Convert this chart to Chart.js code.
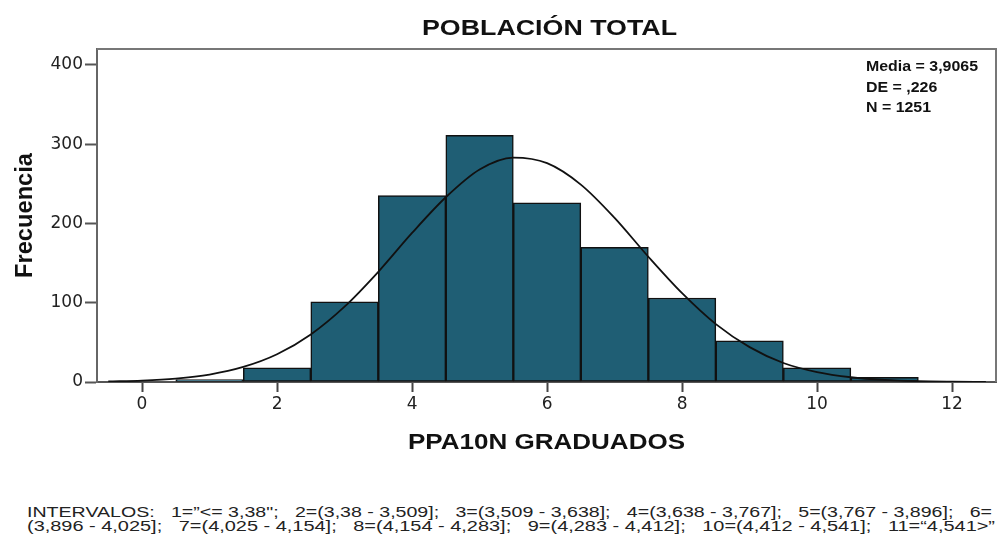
<!DOCTYPE html>
<html>
<head>
<meta charset="utf-8">
<script src="https://cdn.jsdelivr.net/npm/chart.js@4.4.1/dist/chart.umd.min.js"></script>
<style>
  html, body { margin: 0; padding: 0; background: #fff; }
  body { width: 1001px; height: 542px; position: relative; overflow: hidden; }
  #c { position: absolute; left: 0; top: 0; }
  .foot { position: absolute; left: 27px; font: 14px "Liberation Sans", Arial, sans-serif; line-height: 15px;
          color: #222; white-space: pre; transform-origin: 0 0; }
</style>
</head>
<body>
<canvas id="c" width="1001" height="470"></canvas>
<div class="foot" id="f1"></div>
<div class="foot" id="f2"></div>
<script>
// ---- data ----
const binCenters  = [1, 2, 3, 4, 5, 6, 7, 8, 9, 10, 11];
const frequencies = [3, 18, 101, 235, 311, 226, 170, 106, 52, 18, 6];
const curveX = [-0.5, 0, 0.5, 1, 1.5, 2, 2.5, 3, 3.5, 4, 4.5, 5, 5.5, 6, 6.5, 7, 7.5, 8, 8.5, 9, 9.5, 10, 10.5, 11, 11.5, 12, 12.5];
const curveY = [0.7, 1.8, 4.3, 9.4, 19, 35, 60, 95, 139, 188, 233, 268, 283, 276, 249, 207, 158, 112, 73, 44, 24, 12.5, 6, 2.6, 1, 0.4, 0.15];
const xTicks = [0, 2, 4, 6, 8, 10, 12];
const yTicks = [0, 100, 200, 300, 400];
const chartTitle = "POBLACIÓN TOTAL";
const xTitle = "PPA10N GRADUADOS";
const yTitle = "Frecuencia";
const statsLines = ["Media = 3,9065", "DE = ,226", "N = 1251"];
const footLine1 = 'INTERVALOS:   1=”<= 3,38";   2=(3,38 - 3,509];   3=(3,509 - 3,638];   4=(3,638 - 3,767];   5=(3,767 - 3,896];   6=';
const footLine2 = '(3,896 - 4,025];   7=(4,025 - 4,154];   8=(4,154 - 4,283];   9=(4,283 - 4,412];   10=(4,412 - 4,541];   11=“4,541>”';

const barData = binCenters.map((x, i) => ({ x: x, y: frequencies[i] }));
const lineData = curveX.map((x, i) => ({ x: x, y: curveY[i] }));

function drawFit(ctx, text, x, y, targetW, font, align) {
  ctx.save();
  ctx.font = font;
  const w = ctx.measureText(text).width;
  const s = targetW / w;
  ctx.translate(x, y);
  ctx.scale(s, 1);
  ctx.textAlign = align || 'center';
  ctx.textBaseline = 'alphabetic';
  ctx.fillStyle = '#111';
  ctx.fillText(text, 0, 0);
  ctx.restore();
  return s;
}

const decor = {
  id: 'decor',
  afterDraw(chart) {
    const ctx = chart.ctx, a = chart.chartArea;
    ctx.save();
    ctx.strokeStyle = '#777';
    ctx.lineWidth = 2;
    ctx.beginPath();
    ctx.moveTo(a.left, a.top);
    ctx.lineTo(a.right, a.top);
    ctx.lineTo(a.right, a.bottom);
    ctx.stroke();
    ctx.restore();

    const cx = (a.left + a.right) / 2;
    drawFit(ctx, chartTitle, cx + 3, 35, 255, 'bold 22px "Liberation Sans", Arial, sans-serif', 'center');
    drawFit(ctx, xTitle, cx, 449, 277, 'bold 22px "Liberation Sans", Arial, sans-serif', 'center');

    ctx.save();
    ctx.translate(32, (a.top + a.bottom) / 2);
    ctx.rotate(-Math.PI / 2);
    ctx.scale(1, 1.08);
    drawFit(ctx, yTitle, 0, 0, 125, 'bold 23px "Liberation Sans", Arial, sans-serif', 'center');
    ctx.restore();

    ctx.save();
    ctx.font = 'bold 15px "Liberation Sans", Arial, sans-serif';
    const s = 112 / ctx.measureText(statsLines[0]).width;
    ctx.fillStyle = '#111';
    ctx.textAlign = 'left';
    const bases = [71, 91.5, 112];
    statsLines.forEach((t, i) => {
      ctx.save();
      ctx.translate(866, bases[i]);
      ctx.scale(s, 1);
      ctx.fillText(t, 0, 0);
      ctx.restore();
    });
    ctx.restore();
  }
};

new Chart(document.getElementById('c'), {
  type: 'bar',
  data: {
    datasets: [
      {
        type: 'line',
        data: lineData,
        borderColor: '#111',
        borderWidth: 1.8,
        pointRadius: 0,
        cubicInterpolationMode: 'monotone',
        fill: false,
        order: 0
      },
      {
        type: 'bar',
        data: barData,
        backgroundColor: '#1f5e74',
        borderColor: '#111',
        borderWidth: 1.5,
        borderSkipped: false,
        barPercentage: 1,
        categoryPercentage: 1,
        order: 1
      }
    ]
  },
  options: {
    responsive: false,
    animation: false,
    events: [],
    layout: { padding: { top: 49, right: 5, left: 0, bottom: 0 } },
    plugins: { legend: { display: false }, tooltip: { enabled: false }, title: { display: false } },
    scales: {
      x: {
        type: 'linear',
        offset: false,
        min: -0.667,
        max: 12.65,
        afterBuildTicks: s => { s.ticks = xTicks.map(v => ({ value: v })); },
        afterFit: s => { s.height = 88; },
        ticks: { color: '#222', font: { family: '"DejaVu Sans", sans-serif', size: 17 }, padding: 2, maxRotation: 0 },
        grid: { offset: false, drawOnChartArea: false, drawTicks: true, tickLength: 10, tickWidth: 2, tickColor: '#444' },
        border: { display: true, color: '#555', width: 2 }
      },
      y: {
        min: 0,
        max: 420,
        afterBuildTicks: s => { s.ticks = yTicks.map(v => ({ value: v })); },
        afterFit: s => { s.width = 97; },
        ticks: { color: '#222', font: { family: '"DejaVu Sans", sans-serif', size: 17 }, padding: 2 },
        grid: { drawOnChartArea: false, drawTicks: true, tickLength: 12, tickWidth: 2, tickColor: '#555' },
        border: { display: true, color: '#666', width: 2 }
      }
    }
  },
  plugins: [decor]
});

function placeFoot(id, text, top, targetW) {
  const el = document.getElementById(id);
  el.textContent = text;
  el.style.top = top + 'px';
  const w = el.getBoundingClientRect().width;
  el.style.transform = 'scaleX(' + (targetW / w) + ')';
}
placeFoot('f1', footLine1, 505, 965);
placeFoot('f2', footLine2, 519, 968);
</script>
</body>
</html>
